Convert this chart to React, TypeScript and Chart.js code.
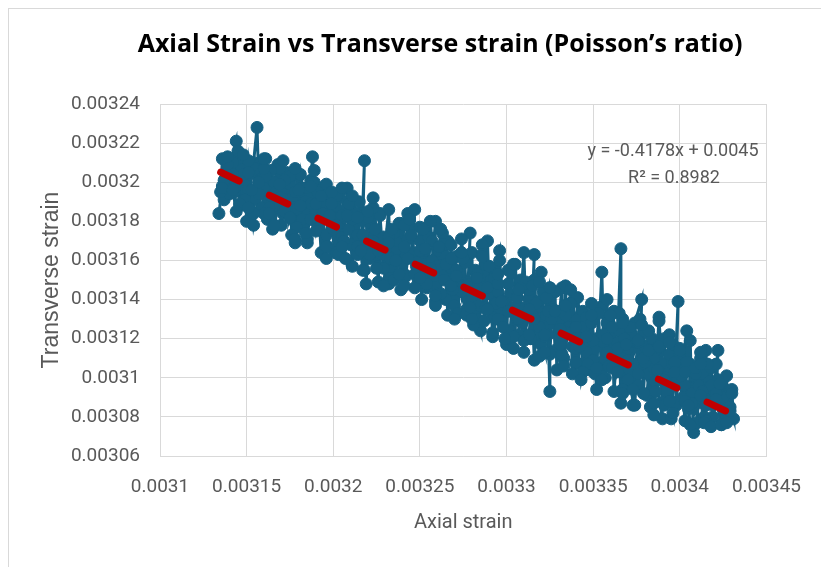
import React, { useEffect, useRef } from "react";
import { Chart, registerables } from "chart.js";

Chart.register(...registerables);

const chartTitle = "Axial Strain vs Transverse strain (Poisson\u2019s ratio)";
const xAxisTitle = "Axial strain";
const yAxisTitle = "Transverse strain";
const trendEquation = "y = -0.4178x + 0.0045";
const trendR2 = "R\u00B2 = 0.8982";

const xTickLabels = ["0.0031", "0.00315", "0.0032", "0.00325", "0.0033", "0.00335", "0.0034", "0.00345"];
const yTickLabels = ["0.00306", "0.00308", "0.0031", "0.00312", "0.00314", "0.00316", "0.00318", "0.0032", "0.00322", "0.00324"];

// First pass (axial strain increasing)
const axialStrainUp = [
  0.003134, 0.003136, 0.003138, 0.003137, 0.00314, 0.003142, 0.003141, 0.003144, 0.003145, 0.003143,
  0.003147, 0.003146, 0.003149, 0.00315, 0.003152, 0.003151, 0.003154, 0.003156, 0.003157, 0.003155,
  0.003158, 0.00316, 0.003159, 0.003162, 0.003161, 0.003164, 0.003165, 0.003166, 0.003168, 0.003167,
  0.00317, 0.003171, 0.003173, 0.003172, 0.003175, 0.003176, 0.003178, 0.003177, 0.00318, 0.003179,
  0.003182, 0.003183, 0.003185, 0.003184, 0.003187, 0.003188, 0.003189, 0.00319, 0.003192, 0.003191,
  0.003194, 0.003195, 0.003197, 0.003196, 0.003199, 0.003198, 0.003201, 0.003202, 0.003204, 0.003203,
  0.003206, 0.003205, 0.003208, 0.003209, 0.003211, 0.00321, 0.003213, 0.003214, 0.003216, 0.003218,
  0.003217, 0.003219, 0.00322, 0.003222, 0.003221, 0.003224, 0.003225, 0.003227, 0.003226, 0.003229,
  0.003228, 0.003231, 0.003232, 0.003233, 0.003235, 0.003234, 0.003237, 0.003236, 0.003239, 0.00324,
  0.003241, 0.003243, 0.003242, 0.003243, 0.003247, 0.003246, 0.003248, 0.00325, 0.003249, 0.003252,
  0.003253, 0.003255, 0.003254, 0.003257, 0.003259, 0.003258, 0.003261, 0.00326, 0.003263, 0.003264,
  0.003266, 0.003265, 0.003268, 0.003269, 0.003271, 0.00327, 0.003273, 0.003274, 0.003276, 0.003277,
  0.003279, 0.003278, 0.00328, 0.003282, 0.003283, 0.003285, 0.003284, 0.003287, 0.003286, 0.003289,
  0.00329, 0.003292, 0.003291, 0.003294, 0.003293, 0.003296, 0.003297, 0.003295, 0.003299, 0.0033,
  0.003301, 0.003303, 0.003302, 0.003305, 0.003306, 0.003308, 0.003307, 0.00331, 0.003311, 0.003309,
  0.003313, 0.003314, 0.003316, 0.003315, 0.003316, 0.003318, 0.003319, 0.003321, 0.00332, 0.003323,
  0.003325, 0.003325, 0.003324, 0.003327, 0.003328, 0.00333, 0.003332, 0.003331, 0.003334, 0.003333,
  0.003336, 0.003337, 0.003339, 0.003338, 0.003341, 0.00334, 0.003343, 0.003344, 0.003346, 0.003345,
  0.003348, 0.003349, 0.00335, 0.003352, 0.003354, 0.003355, 0.003356, 0.003353, 0.003358, 0.003357,
  0.00336, 0.003362, 0.003361, 0.003364, 0.003366, 0.003366, 0.003365, 0.003368, 0.003367, 0.00337,
  0.003369, 0.003372, 0.003373, 0.003371, 0.003375, 0.003374, 0.003378, 0.003377, 0.003376, 0.00338,
  0.003379, 0.003382, 0.003381, 0.003384, 0.003383, 0.003386, 0.003388, 0.003387, 0.003385, 0.00339,
  0.003389, 0.003391, 0.003392, 0.003394, 0.003393, 0.003396, 0.003395, 0.003398, 0.003399, 0.003397,
  0.0034, 0.003402, 0.003401, 0.003404, 0.003403, 0.003405, 0.003406, 0.003408, 0.003407, 0.003409,
  0.00341, 0.003412, 0.003411, 0.003414, 0.003413, 0.003415, 0.003416, 0.003417, 0.003419, 0.003418,
  0.00342, 0.003422, 0.003421, 0.003423, 0.003425, 0.003424, 0.003427, 0.003426, 0.003429, 0.003431,
];

const transverseStrainUp = [
  0.003184, 0.003198, 0.003202, 0.003191, 0.003206, 0.003199, 0.00321, 0.003221, 0.003204, 0.003195,
  0.003208, 0.003188, 0.003201, 0.00318, 0.003205, 0.003196, 0.00321, 0.003228, 0.0032, 0.003191,
  0.003206, 0.003197, 0.003187, 0.003203, 0.003212, 0.003193, 0.003176, 0.0032, 0.003209, 0.003188,
  0.003196, 0.003184, 0.003205, 0.003191, 0.003199, 0.003181, 0.003169, 0.003193, 0.003203, 0.003186,
  0.003197, 0.003179, 0.003169, 0.00319, 0.003201, 0.003213, 0.0032, 0.003185, 0.003193, 0.003178,
  0.003188, 0.003198, 0.003181, 0.003173, 0.00319, 0.003184, 0.003164, 0.003186, 0.003195, 0.003177,
  0.003182, 0.003172, 0.003187, 0.003176, 0.003181, 0.003168, 0.003184, 0.003173, 0.003164, 0.003211,
  0.00318, 0.003148, 0.00317, 0.003177, 0.003161, 0.003173, 0.003166, 0.003184, 0.003157, 0.003172,
  0.003163, 0.003168, 0.003148, 0.003161, 0.003175, 0.003155, 0.003166, 0.00317, 0.003159, 0.003179,
  0.003153, 0.003171, 0.003163, 0.003184, 0.003186, 0.003164, 0.003157, 0.00317, 0.00315, 0.003164,
  0.003153, 0.003172, 0.003146, 0.00316, 0.00318, 0.003152, 0.003165, 0.003143, 0.003158, 0.00315,
  0.00317, 0.00314, 0.003156, 0.003147, 0.003162, 0.003137, 0.003153, 0.003144, 0.003159, 0.003132,
  0.003174, 0.003149, 0.00314, 0.003155, 0.00313, 0.003124, 0.003146, 0.003152, 0.003136, 0.00317,
  0.003143, 0.003131, 0.00315, 0.003138, 0.003156, 0.003165, 0.003129, 0.003144, 0.003137, 0.003117,
  0.003148, 0.003134, 0.003124, 0.003142, 0.00313, 0.00315, 0.003122, 0.003164, 0.003136, 0.003128,
  0.003145, 0.00312, 0.003163, 0.003132, 0.003109, 0.003139, 0.003126, 0.003144, 0.003117, 0.003132,
  0.003146, 0.003093, 0.003122, 0.003135, 0.003114, 0.003129, 0.003146, 0.00312, 0.003132, 0.00311,
  0.003126, 0.003138, 0.00314, 0.003116, 0.00313, 0.003107, 0.003122, 0.003134, 0.003113, 0.003126,
  0.003104, 0.003131, 0.003109, 0.00312, 0.003136, 0.003154, 0.003118, 0.003105, 0.003128, 0.0031,
  0.003122, 0.003134, 0.00311, 0.003118, 0.003166, 0.003087, 0.003124, 0.003108, 0.00313, 0.003115,
  0.003098, 0.003122, 0.003086, 0.003104, 0.003118, 0.003128, 0.00314, 0.003108, 0.003096, 0.003116,
  0.003123, 0.003102, 0.003091, 0.00312, 0.00311, 0.003098, 0.003131, 0.003115, 0.003105, 0.003079,
  0.003108, 0.00312, 0.003093, 0.003112, 0.003102, 0.003117, 0.003088, 0.003106, 0.003139, 0.003098,
  0.003112, 0.00309, 0.003104, 0.003124, 0.003096, 0.003084, 0.003107, 0.003072, 0.003092, 0.0031,
  0.003087, 0.00311, 0.003096, 0.00308, 0.003102, 0.003114, 0.00309, 0.003098, 0.003086, 0.003105,
  0.003093, 0.003114, 0.003088, 0.003096, 0.003084, 0.003091, 0.003087, 0.003082, 0.003085, 0.003079,
];

// Second pass (axial strain decreasing)
const axialStrainDown = [
  0.00343, 0.003428, 0.003427, 0.003425, 0.003424, 0.003422, 0.003421, 0.003419, 0.003418, 0.003416,
  0.003415, 0.003413, 0.003412, 0.00341, 0.003409, 0.003407, 0.003406, 0.003404, 0.003403, 0.003401,
  0.0034, 0.003398, 0.003397, 0.003395, 0.003394, 0.003392, 0.003391, 0.003389, 0.003388, 0.003386,
  0.003385, 0.003383, 0.003382, 0.00338, 0.003379, 0.003377, 0.003376, 0.003374, 0.003373, 0.003371,
  0.00337, 0.003368, 0.003367, 0.003365, 0.003364, 0.003362, 0.003361, 0.003359, 0.003358, 0.003356,
  0.003355, 0.003353, 0.003352, 0.00335, 0.003349, 0.003347, 0.003346, 0.003344, 0.003343, 0.003341,
  0.00334, 0.003338, 0.003337, 0.003335, 0.003334, 0.003332, 0.003331, 0.003329, 0.003328, 0.003326,
  0.003325, 0.003323, 0.003322, 0.00332, 0.003319, 0.003317, 0.003316, 0.003314, 0.003313, 0.003311,
  0.00331, 0.003308, 0.003307, 0.003305, 0.003304, 0.003302, 0.003301, 0.003299, 0.003298, 0.003296,
  0.003295, 0.003293, 0.003292, 0.00329, 0.003289, 0.003287, 0.003286, 0.003284, 0.003283, 0.003281,
  0.00328, 0.003278, 0.003277, 0.003275, 0.003274, 0.003272, 0.003271, 0.003269, 0.003268, 0.003266,
  0.003265, 0.003263, 0.003262, 0.00326, 0.003259, 0.003257, 0.003256, 0.003254, 0.003253, 0.003251,
  0.00325, 0.003248, 0.003247, 0.003245, 0.003244, 0.003242, 0.003241, 0.003239, 0.003238, 0.003236,
  0.003235, 0.003233, 0.003232, 0.00323, 0.003229, 0.003227, 0.003226, 0.003224, 0.003223, 0.003221,
  0.00322, 0.003218, 0.003217, 0.003215, 0.003214, 0.003212, 0.003211, 0.003209, 0.003208, 0.003206,
  0.003205, 0.003203, 0.003202, 0.0032, 0.003199, 0.003197, 0.003196, 0.003194, 0.003193, 0.003191,
  0.00319, 0.003188, 0.003187, 0.003185, 0.003184, 0.003182, 0.003181, 0.003179, 0.003178, 0.003176,
  0.003175, 0.003173, 0.003172, 0.00317, 0.003169, 0.003167, 0.003166, 0.003164, 0.003163, 0.003161,
  0.00316, 0.003158, 0.003157, 0.003155, 0.003154, 0.003152, 0.003151, 0.003149, 0.003148, 0.003146,
  0.003145, 0.003143, 0.003142, 0.00314, 0.003139, 0.003137, 0.003136, 0.003135,
];

const transverseStrainDown = [
  0.003094, 0.003079, 0.003101, 0.00309, 0.003076, 0.003099, 0.003107, 0.00308, 0.003096, 0.003107,
  0.003078, 0.003093, 0.003113, 0.003077, 0.003102, 0.003087, 0.003119, 0.003108, 0.003078, 0.003101,
  0.003115, 0.003086, 0.003108, 0.003079, 0.003122, 0.0031, 0.003086, 0.003117, 0.003129, 0.003093,
  0.00311, 0.003085, 0.003124, 0.003108, 0.003092, 0.00313, 0.003118, 0.003086, 0.003107, 0.003126,
  0.003099, 0.00312, 0.003094, 0.003133, 0.003115, 0.003093, 0.003126, 0.003106, 0.00314, 0.003122,
  0.003101, 0.003133, 0.003094, 0.003119, 0.003138, 0.003107, 0.003131, 0.003103, 0.003126, 0.003141,
  0.003115, 0.003102, 0.003138, 0.003123, 0.003147, 0.003112, 0.003134, 0.003104, 0.003144, 0.00313,
  0.003112, 0.003141, 0.003121, 0.003154, 0.003111, 0.003138, 0.00315, 0.00312, 0.003135, 0.003149,
  0.003113, 0.003146, 0.00313, 0.003158, 0.003121, 0.003143, 0.003155, 0.00312, 0.003139, 0.00316,
  0.00313, 0.003151, 0.003121, 0.003157, 0.003146, 0.003129, 0.003168, 0.003137, 0.003153, 0.003127,
  0.003164, 0.003148, 0.003135, 0.003161, 0.003171, 0.003133, 0.003155, 0.003145, 0.003168, 0.003132,
  0.003162, 0.003174, 0.003143, 0.003157, 0.003139, 0.00317, 0.00318, 0.003148, 0.003165, 0.00314,
  0.003177, 0.003159, 0.003146, 0.003173, 0.003181, 0.003152, 0.003167, 0.003145, 0.003179, 0.00316,
  0.003174, 0.003151, 0.003186, 0.003168, 0.003156, 0.003183, 0.003149, 0.003176, 0.003187, 0.003163,
  0.003182, 0.003155, 0.003173, 0.00319, 0.003163, 0.003183, 0.003157, 0.003189, 0.003197, 0.00317,
  0.003183, 0.003163, 0.003193, 0.003176, 0.003189, 0.003167, 0.003199, 0.003184, 0.003164, 0.003195,
  0.003175, 0.0032, 0.003189, 0.003171, 0.003197, 0.003181, 0.003204, 0.003177, 0.003195, 0.003173,
  0.003203, 0.003186, 0.003201, 0.003178, 0.003207, 0.003195, 0.003178, 0.003206, 0.003187, 0.003203,
  0.003184, 0.00321, 0.003194, 0.003207, 0.003184, 0.003204, 0.003211, 0.003191, 0.003204, 0.003189,
  0.003212, 0.003197, 0.00321, 0.003194, 0.003209, 0.003201, 0.003212, 0.003195,
];

// Third pass (axial strain increasing, jumpy)
const axialStrainThird = [
  0.003136, 0.003142, 0.003139, 0.003144, 0.003142, 0.003145, 0.003151, 0.003148, 0.003153, 0.003151,
  0.003154, 0.00316, 0.003157, 0.003162, 0.00316, 0.003163, 0.003169, 0.003166, 0.003171, 0.003169,
  0.003172, 0.003178, 0.003175, 0.00318, 0.003178, 0.003181, 0.003187, 0.003184, 0.003189, 0.003187,
  0.00319, 0.003196, 0.003193, 0.003198, 0.003196, 0.003199, 0.003205, 0.003202, 0.003207, 0.003205,
  0.003208, 0.003214, 0.003211, 0.003216, 0.003214, 0.003217, 0.003223, 0.00322, 0.003225, 0.003223,
  0.003226, 0.003232, 0.003229, 0.003234, 0.003232, 0.003235, 0.003241, 0.003238, 0.003243, 0.003241,
  0.003244, 0.00325, 0.003247, 0.003252, 0.00325, 0.003253, 0.003259, 0.003256, 0.003261, 0.003259,
  0.003262, 0.003268, 0.003265, 0.00327, 0.003268, 0.003271, 0.003277, 0.003274, 0.003279, 0.003277,
  0.00328, 0.003286, 0.003283, 0.003288, 0.003286, 0.003289, 0.003295, 0.003292, 0.003297, 0.003295,
  0.003298, 0.003304, 0.003301, 0.003306, 0.003304, 0.003307, 0.003313, 0.00331, 0.003315, 0.003313,
  0.003316, 0.003322, 0.003319, 0.003324, 0.003322, 0.003325, 0.003331, 0.003328, 0.003333, 0.003331,
  0.003334, 0.00334, 0.003337, 0.003342, 0.00334, 0.003343, 0.003349, 0.003346, 0.003351, 0.003349,
  0.003352, 0.003358, 0.003355, 0.00336, 0.003358, 0.003361, 0.003367, 0.003364, 0.003369, 0.003367,
  0.00337, 0.003376, 0.003373, 0.003378, 0.003376, 0.003379, 0.003385, 0.003382, 0.003387, 0.003385,
  0.003388, 0.003394, 0.003391, 0.003396, 0.003394, 0.003397, 0.003403, 0.0034, 0.003405, 0.003403,
  0.003406, 0.003412, 0.003409, 0.003414, 0.003412, 0.003415, 0.003421, 0.003418, 0.003423, 0.003421,
  0.003424, 0.00343, 0.003427, 0.003429,
];

const transverseStrainThird = [
  0.003197, 0.003196, 0.003213, 0.003185, 0.003204, 0.003216, 0.003187, 0.003214, 0.003196, 0.003205,
  0.003178, 0.003207, 0.0032, 0.003181, 0.003212, 0.003184, 0.003192, 0.003178, 0.003211, 0.003199,
  0.003185, 0.003207, 0.003182, 0.003196, 0.003171, 0.003188, 0.003198, 0.003174, 0.003206, 0.003181,
  0.003189, 0.003161, 0.003193, 0.003183, 0.003167, 0.003195, 0.003167, 0.003178, 0.003161, 0.003197,
  0.003183, 0.003167, 0.003193, 0.003165, 0.003182, 0.003155, 0.00317, 0.003185, 0.003156, 0.003192,
  0.003165, 0.003172, 0.003147, 0.003176, 0.003169, 0.00315, 0.003178, 0.003153, 0.003161, 0.003147,
  0.003181, 0.003165, 0.003153, 0.003176, 0.003151, 0.003166, 0.003137, 0.003156, 0.003167, 0.003142,
  0.003176, 0.003147, 0.003158, 0.00313, 0.003161, 0.003152, 0.003133, 0.003164, 0.003136, 0.003147,
  0.00313, 0.003163, 0.003151, 0.003136, 0.003162, 0.003135, 0.003148, 0.003123, 0.003139, 0.003153,
  0.003126, 0.003158, 0.003134, 0.003141, 0.003115, 0.003145, 0.003135, 0.003119, 0.003147, 0.003122,
  0.00313, 0.003113, 0.003149, 0.003134, 0.003122, 0.003146, 0.003117, 0.003134, 0.003106, 0.003125,
  0.003137, 0.003108, 0.003145, 0.003116, 0.003126, 0.003099, 0.003128, 0.003121, 0.003102, 0.003132,
  0.003105, 0.003113, 0.003099, 0.003132, 0.00312, 0.003105, 0.003128, 0.003103, 0.003117, 0.003092,
  0.003109, 0.003119, 0.003094, 0.003127, 0.003102, 0.00311, 0.003081, 0.003114, 0.003104, 0.003087,
  0.003116, 0.003088, 0.003099, 0.003082, 0.003118, 0.003103, 0.003088, 0.003114, 0.003086, 0.003103,
  0.003076, 0.003091, 0.003105, 0.003077, 0.003107, 0.003086, 0.003092, 0.003075, 0.003097, 0.003089,
  0.003076, 0.003092, 0.003077, 0.003083,
];

const axialStrain = [...axialStrainUp, ...axialStrainDown, ...axialStrainThird];
const transverseStrain = [...transverseStrainUp, ...transverseStrainDown, ...transverseStrainThird];

const trendAxial = [0.003135, 0.003431];
const trendTransverse = [0.0032051, 0.0030811];

const GRID = "#D9D9D9";
const TEXT = "#595959";
const SERIES = "#156082";
const TREND = "#C00000";

function labelFor(labels: string[], value: number) {
  const hit = labels.find((l) => Math.abs(Number(l) - value) < 1e-9);
  return hit === undefined ? "" : hit;
}

const textPlugin = {
  id: "extraTexts",
  afterDraw(chart: any) {
    const ctx = chart.ctx;
    ctx.save();
    ctx.textAlign = "center";
    ctx.textBaseline = "middle";
    ctx.fillStyle = "#000000";
    ctx.font = 'bold 25px "Open Sans"';
    ctx.fillText(chartTitle, 440, 45);
    ctx.fillStyle = TEXT;
    ctx.font = "18px Roboto";
    ctx.fillText(trendEquation, 673, 151);
    ctx.fillText(trendR2, 674, 178);
    ctx.restore();
  },
};

export default function App() {
  const canvasRef = useRef<HTMLCanvasElement | null>(null);

  useEffect(() => {
    const canvas = canvasRef.current;
    if (!canvas) return;
    const chart = new Chart(canvas, {
      type: "scatter",
      data: {
        datasets: [
          {
            label: "Linear trendline",
            data: trendAxial.map((x, i) => ({ x, y: trendTransverse[i] })),
            showLine: true,
            borderColor: TREND,
            backgroundColor: TREND,
            borderWidth: 7,
            borderDash: [20.5, 33.3],
            borderCapStyle: "round",
            pointRadius: 0,
            order: 0,
          } as any,
          {
            label: "Transverse strain",
            data: axialStrain.map((x, i) => ({ x, y: transverseStrain[i] })),
            showLine: true,
            borderColor: SERIES,
            backgroundColor: SERIES,
            borderWidth: 3,
            pointRadius: 6,
            pointBorderWidth: 1,
            pointBorderColor: SERIES,
            pointBackgroundColor: SERIES,
            order: 1,
          } as any,
        ],
      },
      options: {
        responsive: false,
        animation: false,
        events: [],
        layout: { padding: { left: 0, right: 46, top: 104, bottom: 0 } },
        plugins: {
          legend: { display: false },
          tooltip: { enabled: false },
          title: { display: false },
        },
        scales: {
          x: {
            type: "linear",
            min: Number(xTickLabels[0]),
            max: Number(xTickLabels[xTickLabels.length - 1]),
            ticks: {
              stepSize: 0.00005,
              autoSkip: false,
              maxRotation: 0,
              padding: 20,
              color: TEXT,
              font: { family: "Roboto", size: 19 },
              callback: (v: any) => labelFor(xTickLabels, Number(v)),
            },
            grid: { color: GRID, drawTicks: false, lineWidth: 1 },
            border: { color: GRID },
            title: {
              display: true,
              text: xAxisTitle,
              color: TEXT,
              font: { family: "Roboto", size: 20 },
              padding: { top: 0, bottom: 32 },
            },
            afterFit: (s: any) => {
              s.height = 111;
            },
          },
          y: {
            type: "linear",
            min: Number(yTickLabels[0]),
            max: Number(yTickLabels[yTickLabels.length - 1]),
            ticks: {
              stepSize: 0.00002,
              autoSkip: false,
              padding: 20,
              color: TEXT,
              font: { family: "Roboto", size: 19 },
              callback: (v: any) => labelFor(yTickLabels, Number(v)),
            },
            grid: { color: GRID, drawTicks: false, lineWidth: 1 },
            border: { color: GRID },
            title: {
              display: true,
              text: yAxisTitle,
              color: TEXT,
              font: { family: "Liberation Sans", size: 23 },
              padding: { top: 38, bottom: 0 },
            },
            afterFit: (s: any) => {
              s.width = 160;
            },
          },
        },
      } as any,
      plugins: [textPlugin],
    });
    return () => chart.destroy();
  }, []);

  return (
    <div style={{ position: "fixed", left: 0, top: 0, width: 821, height: 567, background: "#ffffff" }}>
      <canvas ref={canvasRef} width={821} height={567} style={{ display: "block", width: 821, height: 567 }} />
      <div
        style={{
          position: "absolute",
          left: 8,
          top: 8,
          width: 812,
          height: 558,
          border: "1px solid #D9D9D9",
          borderRight: "none",
          borderBottom: "none",
          pointerEvents: "none",
        }}
      />
    </div>
  );
}
